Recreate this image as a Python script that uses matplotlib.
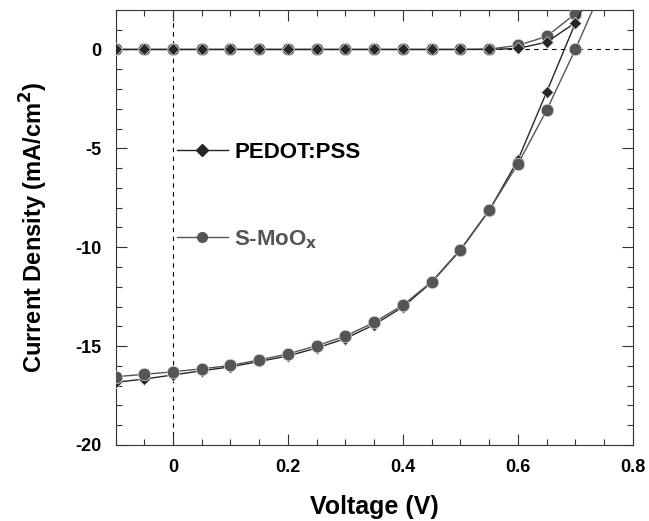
import matplotlib.pyplot as plt
from matplotlib.lines import Line2D
from matplotlib.ticker import MultipleLocator, FuncFormatter

plt.rcParams['font.family'] = ['Liberation Sans', 'DejaVu Sans']
plt.rcParams['font.weight'] = 'bold'
plt.rcParams['mathtext.default'] = 'bf'
plt.rcParams['axes.unicode_minus'] = False

# voltage steps (V)
v_dark = [-0.1, -0.05, 0.0, 0.05, 0.1, 0.15, 0.2, 0.25, 0.3, 0.35, 0.4,
          0.45, 0.5, 0.55, 0.6, 0.65, 0.7]
v_light = [-0.1, -0.05, 0.0, 0.05, 0.1, 0.15, 0.2, 0.25, 0.3, 0.35, 0.4,
           0.45, 0.5, 0.55, 0.6, 0.65, 0.7, 0.75]

# dark current (mA/cm2)
pedot_dark = [0.0, 0.0, 0.0, 0.0, 0.0, 0.0, 0.0, 0.0, 0.0, 0.0, 0.0,
              0.0, 0.0, 0.0, 0.05, 0.37, 1.35]
smoo_dark = [0.0, 0.0, 0.0, 0.0, 0.0, 0.0, 0.0, 0.0, 0.0, 0.0, 0.0,
             0.0, 0.0, 0.02, 0.2, 0.66, 1.8]

# illuminated current (mA/cm2)
pedot_light = [-16.83, -16.67, -16.46, -16.25, -16.05, -15.78, -15.5, -15.1,
               -14.62, -13.92, -13.02, -11.78, -10.15, -8.15, -5.6, -2.16,
               1.33, 4.3]
smoo_light = [-16.55, -16.43, -16.3, -16.15, -15.98, -15.7, -15.4, -14.98,
              -14.5, -13.8, -12.93, -11.75, -10.12, -8.13, -5.8, -3.08,
              0.0, 3.3]

c_pedot = '#262626'
c_smoo = '#555555'

fig = plt.figure(figsize=(6.49, 5.21), dpi=100)
ax = fig.add_axes([0.178, 0.146, 0.797, 0.835])

ax.axhline(0, color='k', lw=0.8, ls=(0, (4, 4)), zorder=1)
ax.axvline(0, color='k', lw=0.8, ls=(0, (4, 4)), zorder=1)

ax.plot(v_dark, smoo_dark, '-o', color=c_smoo, ms=9, mec='#dddddd', mew=0.5, lw=1, zorder=3)
ax.plot(v_dark, pedot_dark, '-D', color=c_pedot, ms=6.5, mec='#dddddd', mew=0.5, lw=1, zorder=3)
ax.plot(v_light, pedot_light, '-D', color=c_pedot, ms=6.5, mec='#dddddd', mew=0.5, lw=1, zorder=3)
ax.plot(v_light, smoo_light, '-o', color=c_smoo, ms=9, mec='#dddddd', mew=0.5, lw=1, zorder=4)

ax.set_xlim(-0.1, 0.8)
ax.set_ylim(-20, 2)
ax.xaxis.set_major_locator(MultipleLocator(0.2))
ax.xaxis.set_minor_locator(MultipleLocator(0.05))
ax.yaxis.set_major_locator(MultipleLocator(5))
ax.yaxis.set_minor_locator(MultipleLocator(1))
ax.xaxis.set_major_formatter(FuncFormatter(lambda v, p: '0' if abs(v) < 1e-9 else '%g' % v))
ax.tick_params(which='both', direction='in', top=True, right=True, color='#333333',
               labelsize=13, pad=10)
ax.tick_params(which='major', length=8, width=0.8)
ax.tick_params(which='minor', length=4, width=0.8)
for s in ax.spines.values():
    s.set_color('#333333')
    s.set_linewidth(0.8)

ax.set_xlabel('Voltage (V)', fontsize=18, fontweight='bold', labelpad=14)
ax.set_ylabel('Current Density (mA/cm$^2$)', fontsize=17, fontweight='bold', labelpad=18)

handles = [Line2D([], [], color=c_pedot, marker='D', ms=6, lw=1),
           Line2D([], [], color=c_smoo, marker='o', ms=7, lw=1)]
labels = ['PEDOT:PSS', 'S-MoO$_{x}$']
leg = ax.legend(handles, labels, loc='upper left', bbox_to_anchor=(0.118, 0.697),
                frameon=False, handlelength=2.3, handletextpad=0.3,
                labelspacing=2.95, borderpad=0, borderaxespad=0,
                prop={'weight': 'bold', 'size': 16})
leg.get_texts()[0].set_color('k')
leg.get_texts()[1].set_color(c_smoo)

fig.savefig('out.png', dpi=100)
